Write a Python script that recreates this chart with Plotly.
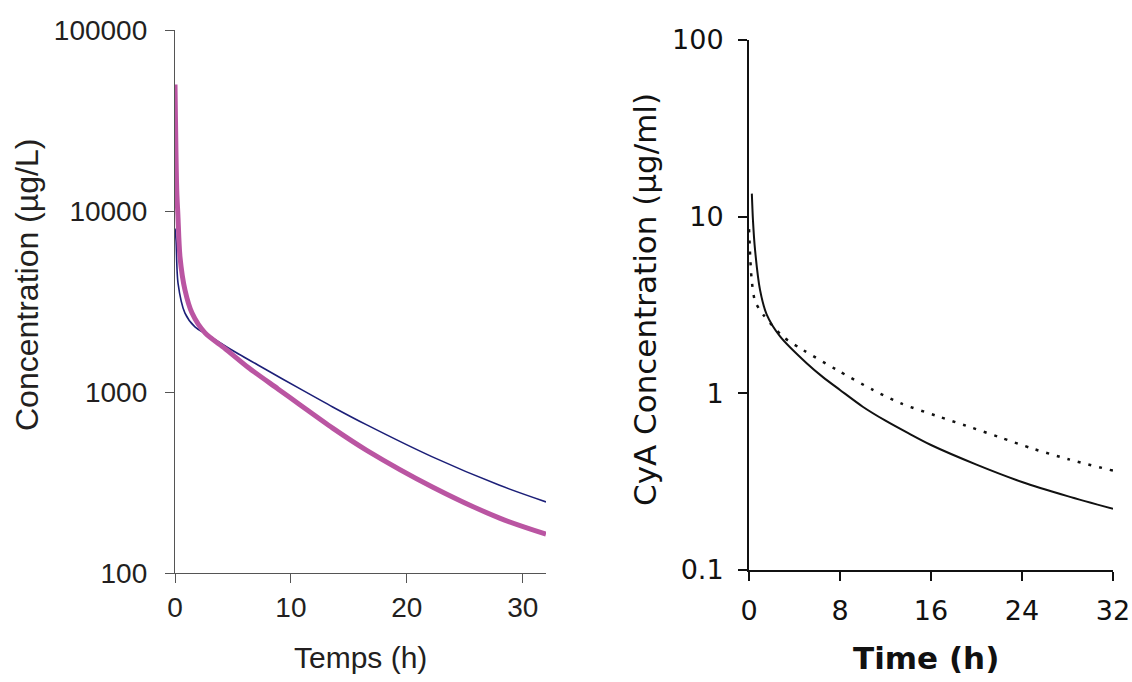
import plotly.graph_objects as go

# ---------------- data ----------------
# Left panel: Temps (h) vs Concentration (µg/L)
left_magenta_x = [0, 0.15, 0.25, 0.43, 0.86, 1.47, 2.59, 4.31, 6.29, 8.88, 10.8, 13.6, 16.5, 22.2, 28, 32]
left_magenta_y = [50000, 13000, 9500, 5570, 3660, 2730, 2120, 1740, 1370, 1040, 848, 632, 478, 299, 201, 164]

left_blue_x = [0, 0.09, 0.26, 0.86, 1.72, 2.84, 4.9, 7.76, 10.8, 13.6, 16.5, 22.2, 28, 32]
left_blue_y = [8000, 6900, 4000, 2730, 2290, 2065, 1707, 1340, 1040, 827, 660, 438, 305, 247]

left_xticks = [0, 10, 20, 30]
left_yticks = [100, 1000, 10000, 100000]
left_yticktext = ["100", "1000", "10000", "100000"]

# Right panel: Time (h) vs CyA Concentration (µg/ml)
right_solid_x = [0.25, 0.35, 0.53, 0.97, 1.55, 2.73, 5.07, 6.5, 8, 10, 12, 14, 16, 20, 24, 28, 32]
right_solid_y = [13.5, 9.5, 6.5, 3.85, 2.8, 2.10, 1.48, 1.235, 1.045, 0.84, 0.70, 0.595, 0.51, 0.395, 0.315, 0.262, 0.222]

right_dotted_x = [0, 0.25, 0.55, 1.23, 3, 4.75, 7.7, 10.9, 13.3, 16.5, 19.1, 22, 25, 28, 32]
right_dotted_y = [8.5, 4.3, 3.3, 2.8, 2.09, 1.76, 1.36, 1.045, 0.88, 0.745, 0.655, 0.565, 0.485, 0.425, 0.365]

right_xticks = [0, 8, 16, 24, 32]
right_yticks = [0.1, 1, 10, 100]
right_yticktext = ["0.1", "1", "10", "100"]

# ---------------- figure ----------------
W, H = 1132, 682

def px_x(p):
    return p / W

def px_y(p):
    return 1 - p / H

fig = go.Figure()

fig.add_trace(go.Scatter(x=left_blue_x, y=left_blue_y, mode="lines",
                         line=dict(color="#1C1F78", width=1.6, shape="spline", smoothing=0.8),
                         xaxis="x", yaxis="y", showlegend=False))
fig.add_trace(go.Scatter(x=left_magenta_x, y=left_magenta_y, mode="lines",
                         line=dict(color="#BA55A2", width=5, shape="spline", smoothing=0.8),
                         xaxis="x", yaxis="y", showlegend=False))

fig.add_trace(go.Scatter(x=right_dotted_x, y=right_dotted_y, mode="lines",
                         line=dict(color="#111111", width=2.5, dash="3px,8px", shape="spline", smoothing=0.8),
                         xaxis="x2", yaxis="y2", showlegend=False))
fig.add_trace(go.Scatter(x=right_solid_x, y=right_solid_y, mode="lines",
                         line=dict(color="#111111", width=2, shape="spline", smoothing=0.8),
                         xaxis="x2", yaxis="y2", showlegend=False))

left_font = dict(family="Liberation Sans, Arial, sans-serif", size=28, color="#231F20")
right_font = dict(family="DejaVu Sans, sans-serif", size=27, color="#111111")

fig.update_layout(
    width=W, height=H,
    margin=dict(l=0, r=0, t=0, b=0),
    paper_bgcolor="white", plot_bgcolor="white",
    hovermode=False,
    xaxis=dict(domain=[px_x(175), px_x(546)], range=[0, 32], tickvals=left_xticks,
               showline=True, linecolor="#555555", linewidth=1.3, ticks="outside",
               ticklen=9, tickwidth=1.3, tickcolor="#555555", showgrid=False, zeroline=False,
               tickfont=left_font, anchor="y", ticklabelstandoff=0, automargin=False),
    yaxis=dict(domain=[px_y(573), px_y(30)], type="log", range=[2, 5],
               tickvals=left_yticks, ticktext=left_yticktext,
               showline=True, linecolor="#555555", linewidth=1.3, ticks="outside",
               ticklen=9, tickwidth=1.3, tickcolor="#555555", showgrid=False, zeroline=False,
               tickfont=left_font, anchor="x", ticklabelstandoff=12, automargin=False),
    xaxis2=dict(domain=[px_x(749), px_x(1113)], range=[0, 32], tickvals=right_xticks,
                showline=True, linecolor="#111111", linewidth=2, ticks="outside",
                ticklen=9, tickwidth=2, tickcolor="#111111", showgrid=False, zeroline=False,
                tickfont=right_font, anchor="y2", ticklabelstandoff=7, automargin=False),
    yaxis2=dict(domain=[px_y(570), px_y(40)], type="log", range=[-1, 2],
                tickvals=right_yticks, ticktext=right_yticktext,
                showline=True, linecolor="#111111", linewidth=2, ticks="outside",
                ticklen=9, tickwidth=2, tickcolor="#111111", showgrid=False, zeroline=False,
                tickfont=right_font, anchor="x2", ticklabelstandoff=9, automargin=False),
    annotations=[
        dict(text="Concentration (µg/L)", x=px_x(27), y=px_y(285), xref="paper", yref="paper",
             textangle=-90, showarrow=False, font=dict(family="Liberation Sans, Arial, sans-serif", size=32, color="#231F20"),
             xanchor="center", yanchor="middle"),
        dict(text="Temps (h)", x=px_x(360), y=px_y(657), xref="paper", yref="paper",
             showarrow=False, font=dict(family="Liberation Sans, Arial, sans-serif", size=30, color="#231F20"),
             xanchor="center", yanchor="middle"),
        dict(text="CyA Concentration (µg/ml)", x=px_x(645), y=px_y(300), xref="paper", yref="paper",
             textangle=-90, showarrow=False, font=dict(family="DejaVu Sans, sans-serif", size=31, color="#111111"),
             xanchor="center", yanchor="middle"),
        dict(text="<b>Time (h)</b>", x=px_x(926), y=px_y(658), xref="paper", yref="paper",
             showarrow=False, font=dict(family="DejaVu Sans, sans-serif", size=31, color="#111111"),
             xanchor="center", yanchor="middle"),
    ],
)

fig.write_html(
    "out.html",
    config={"displayModeBar": False},
    post_script="document.body.style.margin='0';document.body.style.overflow='hidden';",
)
